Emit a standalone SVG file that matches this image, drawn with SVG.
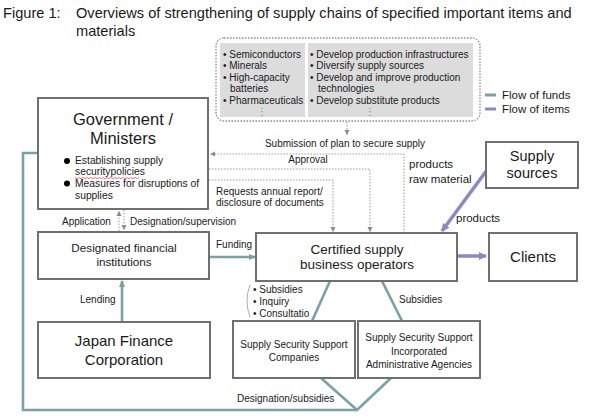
<svg xmlns="http://www.w3.org/2000/svg" width="591" height="419" viewBox="0 0 591 419">
<defs>
<style>
text{font-family:"Liberation Sans",Arial,sans-serif;fill:#1a1a1a}
.box{fill:#fff;stroke:#707070;stroke-width:2}
.t10{font-size:10px}
.t115{font-size:11.5px}
.c{text-anchor:middle}
.dot{fill:none;stroke:#9a9a9a;stroke-width:1;stroke-dasharray:1.5 1.5}
.fund{fill:none;stroke:#7aa1a4;stroke-width:2.6}
.item{fill:none;stroke:#8b8ac0;stroke-width:3.5}
.panel{fill:#dcdcdc}
.ttl{font-size:14.6px}
</style>
<marker id="ad" markerWidth="6" markerHeight="6" refX="5" refY="3" orient="auto" markerUnits="userSpaceOnUse"><path d="M0,0.5 L5,3 L0,5.5 Z" fill="#8a8a8a"/></marker>
<marker id="af" markerWidth="8" markerHeight="8" refX="6" refY="4" orient="auto" markerUnits="userSpaceOnUse"><path d="M0,1 L7,4 L0,7 Z" fill="#7aa1a4"/></marker>
<marker id="ai" markerWidth="10" markerHeight="10" refX="7" refY="5" orient="auto" markerUnits="userSpaceOnUse"><path d="M0,1 L8,5 L0,9 Z" fill="#8b8ac0"/></marker>
</defs>
<rect width="591" height="419" fill="#fff"/>
<g id="title">
<text x="3" y="18" class="ttl">Figure 1:</text>
<text x="76" y="18" class="ttl">Overviews of strengthening of supply chains of specified important items and</text>
<text x="76" y="36" class="ttl">materials</text>
</g>
<g id="items">
<rect x="216" y="38" width="264" height="83" rx="8" class="dot" style="stroke:#8a8a8a;stroke-width:1.3"/>
<rect x="220" y="43" width="85" height="74" class="panel"/>
<rect x="308" y="43" width="165" height="74" class="panel"/>
<text x="223" y="57.5" class="t10">• Semiconductors</text>
<text x="223" y="69" class="t10">• Minerals</text>
<text x="223" y="80.5" class="t10">• High-capacity</text>
<text x="230" y="92" class="t10">batteries</text>
<text x="223" y="103.5" class="t10">• Pharmaceuticals</text>
<text x="262" y="115" class="t10 c" style="font-family:'DejaVu Sans',sans-serif;fill:#888">⋮</text>
<text x="310" y="57.5" class="t10">• Develop production infrastructures</text>
<text x="310" y="69" class="t10">• Diversify supply sources</text>
<text x="310" y="80.5" class="t10">• Develop and improve production</text>
<text x="318" y="92" class="t10">technologies</text>
<text x="310" y="103.5" class="t10">• Develop substitute products</text>
<text x="370" y="115" class="t10 c" style="font-family:'DejaVu Sans',sans-serif;fill:#888">⋮</text>
</g>
<g id="legend">
<line x1="485" y1="95" x2="496" y2="95" class="fund" style="stroke-width:3"/>
<text x="502" y="99" class="t115">Flow of funds</text>
<line x1="485" y1="109" x2="496" y2="109" class="item" style="stroke-width:3"/>
<text x="502" y="113" class="t115">Flow of items</text>
</g>
<g id="connectors">
<line x1="347" y1="122" x2="347" y2="135" class="dot" marker-end="url(#ad)"/>
<polyline points="404,233 404,154 210,154" class="dot" marker-end="url(#ad)"/>
<polyline points="209,169 370,169 370,232" class="dot" marker-end="url(#ad)"/>
<polyline points="209,180 333,180 333,232" class="dot" marker-end="url(#ad)"/>
<line x1="119" y1="231" x2="119" y2="211" class="dot" marker-end="url(#ad)"/>
<line x1="124" y1="210" x2="124" y2="230" class="dot" marker-end="url(#ad)"/>
<line x1="210" y1="257" x2="255" y2="257" class="fund" marker-end="url(#af)"/>
<line x1="122" y1="322" x2="122" y2="281" class="fund" marker-end="url(#af)"/>
<polyline points="38,153 23,153 23,410 357,410" class="fund"/>
<polyline points="321,378 357,410 391,378" class="fund"/>
<line x1="312" y1="321" x2="330" y2="281" class="fund"/>
<line x1="382" y1="281" x2="402" y2="321" class="fund"/>
<line x1="487" y1="170" x2="442" y2="231" class="item" marker-end="url(#ai)"/>
<line x1="458" y1="256" x2="486" y2="256" class="item" marker-end="url(#ai)"/>
<path d="M250,285 Q244,301 250,317" fill="none" stroke="#999" stroke-width="0.8"/>
</g>
<g id="labels">
<text x="345" y="147" class="t10 c">Submission of plan to secure supply</text>
<text x="308" y="163" class="t10 c">Approval</text>
<text x="216" y="195" class="t10">Requests annual report/</text>
<text x="216" y="206" class="t10">disclosure of documents</text>
<text x="409" y="168" class="t115">products</text>
<text x="409" y="183" class="t115">raw material</text>
<text x="456" y="222" class="t115">products</text>
<text x="62" y="225" class="t10">Application</text>
<text x="130" y="225" class="t10">Designation/supervision</text>
<text x="216" y="248" class="t10">Funding</text>
<text x="80" y="303" class="t10">Lending</text>
<text x="253" y="293" class="t10">• Subsidies</text>
<text x="253" y="305" class="t10">• Inquiry</text>
<text x="253" y="317" class="t10">• Consultatio</text>
<text x="399" y="303" class="t10">Subsidies</text>
<text x="237" y="402" class="t10">Designation/subsidies</text>
</g>
<g id="government">
<rect x="38" y="98" width="170" height="111" class="box"/>
<text x="123" y="125" class="c" style="font-size:16.5px">Government /</text>
<text x="123" y="144" class="c" style="font-size:16.5px">Ministers</text>
<circle cx="67" cy="161" r="3"/>
<text x="75" y="164" style="font-size:10.3px">Establishing supply</text>
<text x="75" y="175" style="font-size:10.3px">securitypolicies</text>
<path d="M75,177.5 l2,1.2 l2,-1.2 l2,1.2 l2,-1.2 l2,1.2 l2,-1.2 l2,1.2 l2,-1.2 l2,1.2 l2,-1.2 l2,1.2 l2,-1.2 l2,1.2 l2,-1.2 l2,1.2 l2,-1.2 l2,1.2 l2,-1.2 l2,1.2 l2,-1.2 l2,1.2 l2,-1.2 l2,1.2 l2,-1.2 l2,1.2 l2,-1.2 l2,1.2 l2,-1.2 l2,1.2 l2,-1.2 l2,1.2 l2,-1.2" fill="none" stroke="#e04040" stroke-width="0.7"/>
<circle cx="67" cy="183.5" r="3"/>
<text x="75" y="187" style="font-size:10.3px">Measures for disruptions of</text>
<text x="75" y="199" style="font-size:10.3px">supplies</text>
</g>
<g id="supply-sources">
<rect x="486" y="142" width="92" height="46" class="box"/>
<text x="532" y="161" class="c" style="font-size:14.5px">Supply</text>
<text x="532" y="178" class="c" style="font-size:14.5px">sources</text>
</g>
<g id="financial">
<rect x="38" y="232" width="171" height="47" class="box"/>
<text x="124" y="252" class="c" style="font-size:11.7px">Designated financial</text>
<text x="124" y="266" class="c" style="font-size:11.7px">institutions</text>
</g>
<g id="certified">
<rect x="256" y="233" width="201" height="48" class="box"/>
<text x="357" y="254" class="c" style="font-size:13.5px">Certified supply</text>
<text x="357" y="269" class="c" style="font-size:13.5px">business operators</text>
</g>
<g id="clients">
<rect x="489" y="233" width="88" height="48" class="box"/>
<text x="533" y="262" class="c" style="font-size:15px">Clients</text>
</g>
<g id="jfc">
<rect x="38" y="322" width="172" height="56" class="box"/>
<text x="124" y="346" class="c" style="font-size:15px">Japan Finance</text>
<text x="124" y="365" class="c" style="font-size:15px">Corporation</text>
</g>
<g id="sssc">
<rect x="233" y="321" width="122" height="57" class="box"/>
<text x="294" y="348" class="c t10">Supply Security Support</text>
<text x="294" y="361" class="c t10">Companies</text>
</g>
<g id="sssiaa">
<rect x="358" y="321" width="122" height="57" class="box"/>
<text x="419" y="341" class="c t10">Supply Security Support</text>
<text x="419" y="355" class="c t10">Incorporated</text>
<text x="419" y="368" class="c t10">Administrative Agencies</text>
</g>
</svg>
